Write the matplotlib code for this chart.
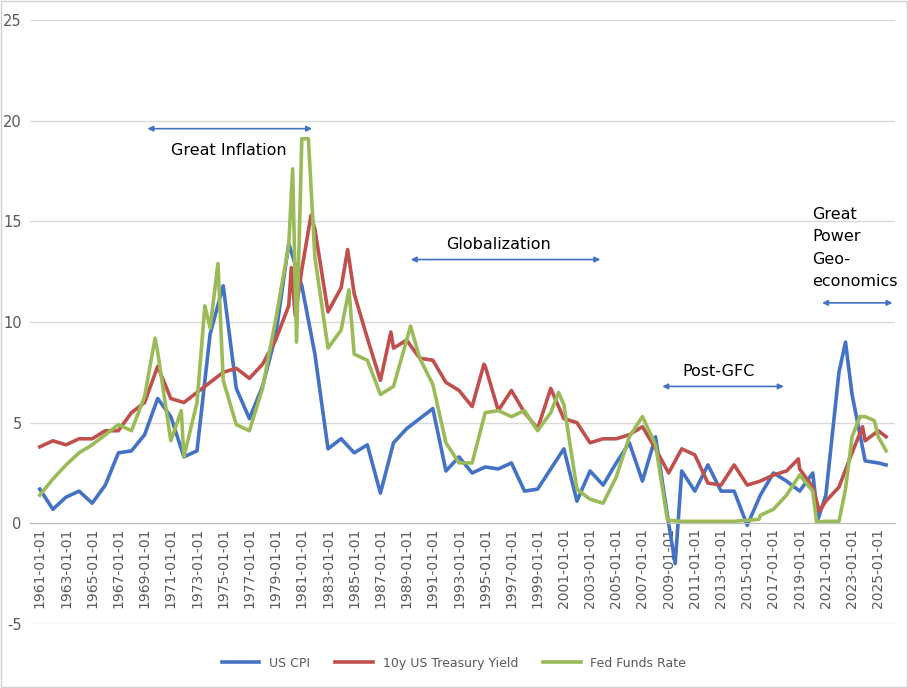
import matplotlib.pyplot as plt
from matplotlib.patches import Rectangle
plt.rcParams['axes.unicode_minus'] = False

cpi_x = [1961,1962,1963,1964,1965,1966,1967,1968,1969,1970,1971,1972,1973,1974,1975,1976,1977,1978,1979,1980,1981,1982,1983,1984,1985,1986,1987,1988,1989,1990,1991,1992,1993,1994,1995,1996,1997,1998,1999,2000,2001,2002,2003,2004,2005,2006,2007,2008,2009,2009.5,2010,2011,2012,2013,2014,2015,2016,2017,2018,2019,2020,2020.4,2021,2022,2022.5,2023,2024,2025,2025.6]
cpi_y = [1.7,0.7,1.3,1.6,1.0,1.9,3.5,3.6,4.4,6.2,5.3,3.3,3.6,9.4,11.8,6.7,5.2,6.8,9.3,13.9,11.8,8.4,3.7,4.2,3.5,3.9,1.5,4.0,4.7,5.2,5.7,2.6,3.3,2.5,2.8,2.7,3.0,1.6,1.7,2.7,3.7,1.1,2.6,1.9,3.0,4.0,2.1,4.3,0.0,-2.0,2.6,1.6,2.9,1.6,1.6,-0.1,1.4,2.5,2.1,1.6,2.5,0.2,1.4,7.5,9.0,6.4,3.1,3.0,2.9]

ty_x = [1961,1962,1963,1964,1965,1966,1967,1968,1969,1970,1971,1972,1973,1974,1975,1976,1977,1978,1979,1980,1980.2,1980.5,1981,1981.7,1982,1983,1984,1984.5,1985,1986,1987,1987.8,1988,1989,1990,1991,1992,1993,1994,1994.9,1995,1996,1997,1998,1999,2000,2001,2002,2003,2004,2005,2006,2007,2008,2009,2010,2011,2012,2013,2014,2015,2016,2017,2018,2018.9,2019,2020,2020.5,2021,2022,2023,2023.8,2024,2025,2025.6]
ty_y = [3.8,4.1,3.9,4.2,4.2,4.6,4.6,5.5,6.0,7.8,6.2,6.0,6.5,7.0,7.5,7.7,7.2,7.9,9.1,10.8,12.7,10.3,12.6,15.3,14.6,10.5,11.7,13.6,11.4,9.2,7.1,9.5,8.7,9.1,8.2,8.1,7.0,6.6,5.8,7.9,7.8,5.6,6.6,5.5,4.7,6.7,5.2,5.0,4.0,4.2,4.2,4.4,4.8,3.7,2.5,3.7,3.4,2.0,1.9,2.9,1.9,2.1,2.4,2.6,3.2,2.7,1.8,0.6,1.1,1.8,3.5,4.8,4.1,4.6,4.3]

ff_x = [1961,1962,1963,1964,1965,1966,1967,1968,1969,1969.8,1970,1971,1971.8,1972,1973,1973.6,1974,1974.6,1975,1976,1977,1978,1979,1980,1980.3,1980.6,1981,1981.5,1982,1983,1984,1984.6,1985,1986,1987,1988,1989,1989.3,1990,1991,1992,1993,1994,1995,1996,1997,1998,1999,2000,2000.6,2001,2002,2003,2004,2005,2006,2007,2008,2008.9,2009,2010,2012,2014,2015.9,2016,2017,2018,2019,2020,2020.3,2021,2022,2022.5,2023,2023.6,2024,2024.7,2025,2025.6]
ff_y = [1.4,2.2,2.9,3.5,3.9,4.4,4.9,4.6,6.3,9.2,8.5,4.1,5.6,3.3,6.0,10.8,9.7,12.9,7.1,4.9,4.6,6.7,10.1,13.8,17.6,9.0,19.1,19.1,13.2,8.7,9.6,11.6,8.4,8.1,6.4,6.8,9.1,9.8,8.2,6.9,4.0,3.0,3.0,5.5,5.6,5.3,5.6,4.6,5.5,6.5,5.9,1.7,1.2,1.0,2.3,4.3,5.3,3.9,0.2,0.15,0.1,0.1,0.1,0.2,0.4,0.7,1.4,2.4,1.6,0.05,0.1,0.1,1.7,4.3,5.3,5.3,5.1,4.3,3.6]

tick_years = list(range(1961, 2026, 2))
tick_labels = [f"{y}-01-01" for y in tick_years]

fig = plt.figure(figsize=(9.08, 6.88), dpi=100)
fig.patches.append(Rectangle((0.001, 0.001), 0.998, 0.998, transform=fig.transFigure,
                             fill=False, edgecolor='#d0d0d0', lw=1))
ax = fig.add_axes([0.033, 0.093, 0.953, 0.878])
ax.plot(cpi_x, cpi_y, color='#4472c4', lw=2.6, label='US CPI')
ax.plot(ty_x, ty_y, color='#c0504d', lw=2.6, label='10y US Treasury Yield')
ax.plot(ff_x, ff_y, color='#9bbb59', lw=2.6, label='Fed Funds Rate')

ax.set_xlim(1960.25, 2026.3)
ax.set_ylim(-5, 25)
ax.set_yticks(range(-5, 26, 5))
ax.grid(axis='y', color='#d9d9d9', lw=1)
ax.set_axisbelow(True)
for s in ['top', 'right', 'left']:
    ax.spines[s].set_visible(False)
ax.spines['bottom'].set_position(('data', 0))
ax.spines['bottom'].set_color('#bfbfbf')
ax.set_xticks(tick_years)
ax.set_xticklabels(tick_labels, rotation=90, fontsize=10, color='#595959')
ax.tick_params(axis='y', length=0, labelsize=10.5, colors='#595959', pad=6)
ax.tick_params(axis='x', length=0, pad=3)

arrow = dict(arrowstyle='<|-|>', color='#4472c4', lw=1.2, mutation_scale=8)
def ann(x0, x1, y, text, tx, ty, **kw):
    ax.annotate('', xy=(x0, y), xytext=(x1, y), arrowprops=arrow)
    ax.text(tx, ty, text, fontsize=11.5, **kw)
ann(1969.0, 1982.0, 19.6, 'Great Inflation', 1975.4, 18.5, ha='center', va='center')
ann(1989.1, 2004.0, 13.1, 'Globalization', 1996.0, 13.85, ha='center', va='center')
ann(2008.3, 2018.0, 6.8, 'Post-GFC', 2012.8, 7.55, ha='center', va='center')
ann(2020.5, 2026.3, 10.95, 'Great\nPower\nGeo-\neconomics', 2019.95, 15.7, ha='left', va='top', linespacing=1.6)

fig.legend(loc='lower center', bbox_to_anchor=(0.5, 0.01), ncol=3, frameon=False,
           fontsize=9, handlelength=3, columnspacing=2, labelcolor='#595959')
fig.savefig('out.png', dpi=100)
